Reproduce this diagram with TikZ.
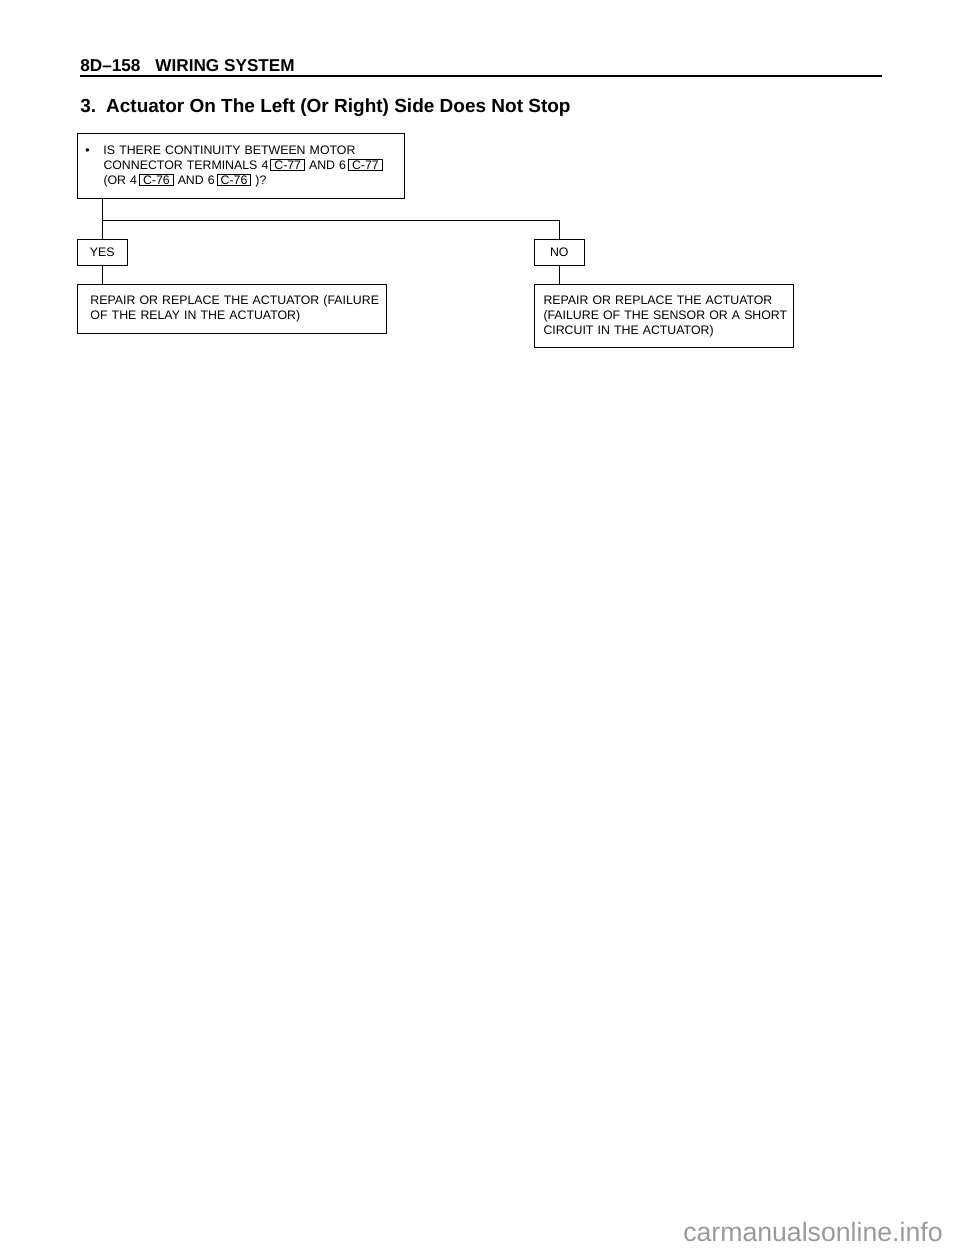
\documentclass[tikz,border=0pt]{standalone}
\usepackage{fontspec}
\setmainfont{Liberation Sans}
\usepackage{xcolor}
\definecolor{markgray}{HTML}{9A9A9A}
\newcommand{\bodyfont}{\fontsize{7.4}{9}\selectfont}
\newcommand{\conn}[1]{\,{\setlength{\fboxsep}{0.6pt}\setlength{\fboxrule}{0.5pt}\fbox{\,#1\,}}}

\begin{document}
\begin{tikzpicture}[x=0.6pt,y=-0.6pt,
    box/.style={draw, line width=0.6pt, anchor=north west, align=left, font=\bodyfont},
    tag/.style={draw, line width=0.6pt, anchor=north west, inner sep=0pt, font=\bodyfont,
      minimum width=29.7pt, minimum height=15.6pt},
    link/.style={line width=0.6pt}]
  \useasboundingbox (0,0) rectangle (960,1250);
  % page head
  \node[anchor=base west, inner sep=0pt, font=\fontsize{10.3}{12}\selectfont\bfseries] at (80,71) (head) {8D--158\hspace{9pt}WIRING SYSTEM};
  \coordinate (ruleend) at (882,76);
  \draw[line width=1.4pt] (head.west |- ruleend) -- (ruleend);
  \node[anchor=base west, inner sep=0pt, font=\fontsize{11.4}{13}\selectfont\bfseries] at (80,112) (title) {3.\hspace{6pt}Actuator On The Left (Or Right) Side Does Not Stop};
  % question
  \node[box, inner xsep=4.8pt, text width=186.6pt, minimum height=39pt] at (77,133) (q)
    {\begin{tabular}{@{}p{10.8pt}@{}l@{}}
      \textbullet & IS THERE CONTINUITY BETWEEN MOTOR\\
      & CONNECTOR TERMINALS 4\conn{C-77} AND 6\conn{C-77}\\
      & (OR 4\conn{C-76} AND 6\conn{C-76} )?
    \end{tabular}};
  \node[tag] at (77,239) (yes) {YES};
  \node[tag] at (534,239) (no) {NO};
  \node[box, inner xsep=7.8pt, text width=169.8pt, minimum height=29.4pt] at (77,284) (fixL)
    {\begin{tabular}{@{}l@{}}
      REPAIR OR REPLACE THE ACTUATOR (FAILURE\\
      OF THE RELAY IN THE ACTUATOR)
    \end{tabular}};
  \node[box, inner xsep=5.4pt, text width=144.6pt, minimum height=37.8pt] at (534,284) (fixR)
    {\begin{tabular}{@{}l@{}}
      REPAIR OR REPLACE THE ACTUATOR\\
      (FAILURE OF THE SENSOR OR A SHORT\\
      CIRCUIT IN THE ACTUATOR)
    \end{tabular}};
  \coordinate (split) at (102,220);
  \draw[link] (q.south -| yes.north) -- (yes.north);
  \draw[link] (split) -| (no.north);
  \draw[link] (yes.south) -- (yes.south |- fixL.north);
  \draw[link] (no.south) -- (no.south |- fixR.north);
  % watermark
  \node[anchor=east, inner sep=0pt, text=markgray, font=\fontsize{16}{18}\selectfont] at (943,1232) (mark) {carmanualsonline.info};
\end{tikzpicture}
\end{document}
